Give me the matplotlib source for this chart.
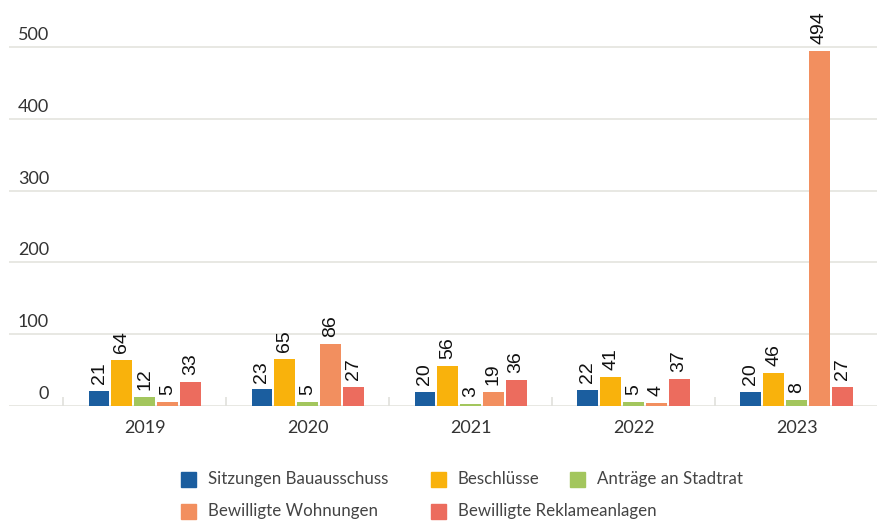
import matplotlib.pyplot as plt
from matplotlib.patches import Rectangle
from matplotlib.transforms import blended_transform_factory, offset_copy
import numpy as np

plt.rcParams['font.family'] = ['Lato', 'DejaVu Sans']

years = ['2019', '2020', '2021', '2022', '2023']
series = ['Sitzungen Bauausschuss', 'Beschlüsse', 'Anträge an Stadtrat',
          'Bewilligte Wohnungen', 'Bewilligte Reklameanlagen']
sitzungen = [21, 23, 20, 22, 20]
beschluesse = [64, 65, 56, 41, 46]
antraege = [12, 5, 3, 5, 8]
wohnungen = [5, 86, 19, 4, 494]
reklame = [33, 27, 36, 37, 27]
colors = ['#1b5e9f', '#f9b20c', '#a3c65d', '#f28f5f', '#ec6c5e']
yticks = [0, 100, 200, 300, 400, 500]

W, H = 878, 521
fig = plt.figure(figsize=(W / 100, H / 100), dpi=100)
ax = fig.add_axes([9 / W, 1 - 406 / H, 1 - 9 / W, 406 / H])

x = np.arange(len(years))
slot, bw = 0.14, 0.128
values = [sitzungen, beschluesse, antraege, wohnungen, reklame]
for i, (vals, c) in enumerate(zip(values, colors)):
    bars = ax.bar(x + (i - 2) * slot, vals, bw, color=c, zorder=3)
    for b, v in zip(bars, vals):
        ax.annotate(str(v), (b.get_x() + b.get_width() / 2, v),
                    xytext=(0, 5), textcoords='offset points',
                    rotation=90, ha='center', va='bottom',
                    fontsize=14, color='#111111', annotation_clip=False,
                    family=['Liberation Sans Narrow', 'Liberation Sans'])

ax.set_xlim((9 - 145.5) / 164, (878 - 145.5) / 164)
ax.set_ylim(0, 406 / 0.718)

for v in yticks:
    ax.axhline(v, color='#e6e6e1', lw=1.3, zorder=1)
tr = offset_copy(blended_transform_factory(fig.transFigure, ax.transData),
                 fig=fig, y=4, units='dots')
for v in yticks:
    ax.text(49 / W, v, str(v), transform=tr, ha='right', va='bottom',
            fontsize=13, color='#333333')

ax.set_yticks([])
ax.set_xticks(x)
ax.set_xticklabels(years, fontsize=13, color='#333333')
ax.tick_params(axis='x', length=0, pad=10)
ax.set_xticks(np.arange(-0.5, 4.6, 1), minor=True)
ax.tick_params(axis='x', which='minor', direction='in', length=6.5,
               color='#e0e0dc', width=1.2)
for s in ax.spines.values():
    s.set_visible(False)

# legend, laid out in two rows like the original
legend_pos = [(181, 479), (431, 479), (570, 479), (181, 511), (431, 511)]
for (px, py), lab, c in zip(legend_pos, series, colors):
    fig.patches.append(Rectangle((px / W, 1 - (py + 7.5) / H), 15 / W, 15 / H,
                                 transform=fig.transFigure, color=c))
    fig.text((px + 27) / W, 1 - py / H, lab, ha='left', va='center',
             fontsize=12.2, color='#444444')

fig.savefig('out.png', dpi=100)
